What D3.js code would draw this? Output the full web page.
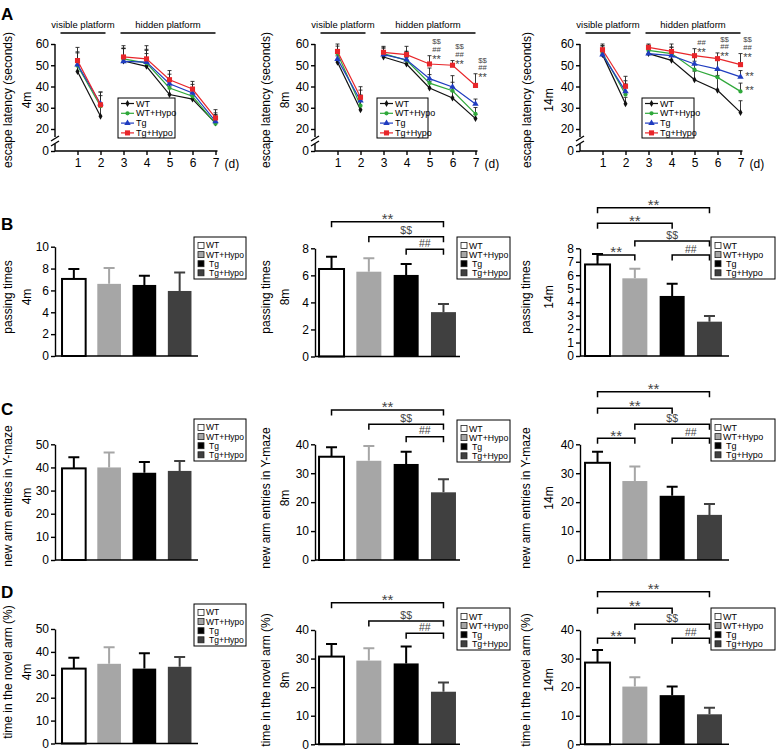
<!DOCTYPE html>
<html>
<head>
<meta charset="utf-8">
<script src="https://cdn.jsdelivr.net/npm/d3@7"></script>
<style>
body { margin: 0; background: #fff; }
svg { font-family: "Liberation Sans", Arial, sans-serif; }
</style>
</head>
<body>
<svg id="fig" width="777" height="755"></svg>
<script>
var days = [1, 2, 3, 4, 5, 6, 7];
var groups = ["WT", "WT+Hypo", "Tg", "Tg+Hypo"];

// escape latency (s), one row per group, day 1..7
var lat4m = [
  [47.1, 26.0, 52.0, 49.5, 36.2, 34.1, 22.8],
  [49.8, 30.7, 53.0, 51.0, 39.3, 35.4, 22.5],
  [50.3, 31.9, 51.8, 51.5, 41.3, 37.0, 23.6],
  [52.2, 31.4, 53.9, 53.0, 43.2, 38.8, 25.2]
];
var lat4mSe = [
  [6, 5, 6, 6, 4, 4, 4],
  [6, 5, 5, 6, 4.5, 4, 4],
  [6, 5.5, 6, 6, 4.5, 4, 4],
  [6.2, 6, 5.3, 6.2, 4.3, 3.6, 3.9]
];
var lat8m = [
  [51.4, 29.1, 53.9, 50.6, 39.3, 34.6, 24.9],
  [55.5, 31.0, 55.5, 52.3, 41.6, 38.0, 27.1],
  [52.9, 33.3, 55.0, 52.6, 43.7, 39.8, 31.8],
  [56.5, 34.9, 56.1, 55.0, 50.6, 50.0, 40.5]
];
var lat8mSe = [
  [3, 4, 3, 3, 3, 3, 2],
  [3.5, 5, 3, 4, 4, 4, 3],
  [4, 5, 3, 4, 5, 5.3, 2.3],
  [3.5, 5, 2.8, 3.9, 3.9, 2.2, 5.5]
];
var lat14m = [
  [55.0, 31.9, 55.5, 52.3, 43.2, 38.2, 27.8],
  [55.8, 36.2, 57.0, 55.5, 47.9, 44.3, 37.7],
  [55.0, 37.7, 55.5, 54.5, 50.6, 48.2, 44.5],
  [57.3, 40.1, 58.4, 56.5, 54.5, 53.1, 50.3]
];
var lat14mSe = [
  [3, 3, 3, 3, 4, 7, 5.5],
  [3.5, 5, 2.5, 3, 4, 4, 3.9],
  [4, 5, 3, 4, 4, 4.5, 3],
  [2.7, 4.7, 1.6, 3.5, 3.3, 2.7, 5.2]
];
// significance stacks above Tg+Hypo: [day, symbols bottom->top]
var latSig4m = [];
var latSig8m = [[5, ["**", "##", "$$"]], [6, ["**", "##", "$$"]], [7, ["**", "##", "$$"]]];
var latSig14m = [[5, ["**", "##"]], [6, ["**", "##", "$$"]], [7, ["**", "##", "$$"]]];
// marks beside a group's point: [day, group index, symbol]
var latSide14m = [[7, 2, "**"], [7, 1, "**"]];

// bar values (mean, SEM) in group order
var pass4m = [7.05, 6.6, 6.5, 5.95], pass4mErr = [0.9, 1.45, 0.85, 1.7];
var pass8m = [6.47, 6.27, 6.03, 3.28], pass8mErr = [0.9, 1.0, 0.8, 0.6];
var pass14m = [6.8, 5.77, 4.46, 2.55], pass14mErr = [0.77, 0.72, 0.91, 0.42];
var arm4m = [39.6, 40.0, 37.7, 38.5], arm4mErr = [4.8, 6.5, 4.6, 4.3];
var arm8m = [35.7, 34.3, 33.2, 23.4], arm8mErr = [3.3, 5.1, 4.2, 4.5];
var arm14m = [33.6, 27.3, 22.2, 15.6], arm14mErr = [3.8, 5.0, 3.1, 3.8];
var nov4m = [32.7, 34.8, 32.7, 33.5], nov4mErr = [4.7, 7.2, 6.7, 4.3];
var nov8m = [30.7, 29.3, 28.3, 18.4], nov8mErr = [4.4, 4.3, 5.9, 3.2];
var nov14m = [28.6, 20.2, 17.2, 10.5], nov14mErr = [4.4, 3.3, 3.0, 2.3];

// comparisons: [group a, group b, label]
var sig4m = [];
var sig8m = [[0, 3, "**"], [1, 3, "$$"], [2, 3, "##"]];
var sig14m = [[0, 3, "**"], [0, 2, "**"], [1, 3, "$$"], [0, 1, "**"], [2, 3, "##"]];

var ages = ["4m", "8m", "14m"];

var lineColors = ["#111", "#2fa83a", "#1f3cc0", "#e8262a"];
var barColors = ["#fff", "#a6a6a6", "#000", "#404040"];
var errColors = ["#000", "#a6a6a6", "#000", "#404040"];
var symbols = [d3.symbolDiamond, d3.symbolCircle, d3.symbolTriangle, d3.symbolSquare];
var symSize = [14, 14, 18, 26];

var svg = d3.select("#fig");
var colAx = [55, 315, 580];

function styleAxis(g) {
  g.attr("font-size", 12).attr("font-family", "'Liberation Sans', Arial, sans-serif");
  g.selectAll("line, path").attr("stroke", "#000").attr("stroke-width", 1.4);
  g.selectAll("text").attr("fill", "#000");
}

function yLabel(cx, cy, txt) {
  svg.append("text")
    .attr("transform", "translate(" + cx + "," + cy + ") rotate(-90)")
    .attr("text-anchor", "middle").attr("dy", "0.35em")
    .style("font-size", "12px").text(txt);
}

function sigText(g, x, yc, label, big) {
  var star = label.charAt(0) === "*";
  var fs = star ? big : big * 0.7;
  g.append("text").attr("x", x).attr("y", yc)
    .attr("dy", star ? "0.55em" : "0.36em")
    .attr("text-anchor", "middle").attr("fill", "#444")
    .style("font-size", fs + "px").text(label);
}

function panelLetter(t, y) {
  svg.append("text").attr("x", 1).attr("y", y)
    .style("font-size", "17px").style("font-weight", "bold").text(t);
}

// ---------- row A: line charts ----------
function linePanel(col, means, ses, stacks, sides, legendBox) {
  var ax = colAx[col];
  var x = d3.scaleLinear().domain([1, 7]).range([ax + 22.5, ax + 160.5]);
  var y = d3.scaleLinear().domain([0, 20, 60]).range([151, 129, 44]);
  var g = svg.append("g");

  // platform headers
  var hdr = [["visible platform", x(1) - 17, x(2) + 5], ["hidden platform", x(3) - 3, x(7)]];
  hdr.forEach(function (h) {
    g.append("line").attr("x1", h[1]).attr("x2", h[2]).attr("y1", 33).attr("y2", 33)
      .attr("stroke", "#000").attr("stroke-width", 1.3);
    g.append("text").attr("x", (h[1] + h[2]) / 2).attr("y", 28)
      .attr("text-anchor", "middle").style("font-size", "9.5px").text(h[0]);
  });

  var gy = g.append("g").attr("transform", "translate(" + ax + ",0)")
    .call(d3.axisLeft(y).tickValues([0, 20, 30, 40, 50, 60]).tickSize(4).tickPadding(2));
  gy.select(".domain").remove();
  styleAxis(gy);
  gy.append("line").attr("y1", y(60)).attr("y2", y(20) + 8);
  gy.append("line").attr("y1", y(0) - 7).attr("y2", y(0));
  [y(20) + 10, y(20) + 15].forEach(function (b) {
    gy.append("line").attr("x1", -4).attr("x2", 4).attr("y1", b + 2).attr("y2", b - 3);
  });
  gy.selectAll("line").attr("stroke", "#000").attr("stroke-width", 1.4);

  var gx = g.append("g").attr("transform", "translate(0,151)")
    .call(d3.axisBottom(x).tickValues(days).tickFormat(d3.format("d")).tickSize(4).tickPadding(3));
  gx.select(".domain").attr("d", "M" + ax + ",0H" + (x(7) + 2));
  styleAxis(gx);
  g.append("text").attr("x", x(7) + 9).attr("y", 168).style("font-size", "12px").text("(d)");

  // error bars
  means.forEach(function (m, s) {
    days.forEach(function (d, i) {
      var top = y(m[i] + ses[s][i]);
      g.append("line").attr("x1", x(d)).attr("x2", x(d)).attr("y1", y(m[i])).attr("y2", top)
        .attr("stroke", "#222").attr("stroke-width", 0.9);
      g.append("line").attr("x1", x(d) - 2).attr("x2", x(d) + 2).attr("y1", top).attr("y2", top)
        .attr("stroke", "#222").attr("stroke-width", 0.9);
    });
  });

  var line = d3.line().x(function (d, i) { return x(days[i]); }).y(function (d) { return y(d); });
  means.forEach(function (m, s) {
    // visible and hidden phases drawn as separate segments
    g.append("path").attr("d", line.defined(function (d, i) { return i < 2; })(m))
      .attr("fill", "none").attr("stroke", lineColors[s]).attr("stroke-width", 1.2);
    g.append("path").attr("d", line.defined(function (d, i) { return i >= 2; })(m))
      .attr("fill", "none").attr("stroke", lineColors[s]).attr("stroke-width", 1.2);
    g.selectAll(null).data(m).enter().append("path")
      .attr("transform", function (d, i) { return "translate(" + x(days[i]) + "," + y(d) + ")"; })
      .attr("d", d3.symbol().type(symbols[s]).size(symSize[s]))
      .attr("fill", lineColors[s]);
  });

  stacks.forEach(function (st) {
    var i = st[0] - 1;
    var base = y(means[3][i] + ses[3][i]) + 1;
    st[1].forEach(function (lab, k) {
      sigText(g, x(st[0]) + 7, base - k * 7.5, lab, 11);
    });
  });
  sides.forEach(function (sd) {
    sigText(g, x(sd[0]) + 9, y(means[sd[1]][sd[0] - 1]) - 3, sd[2], 11);
  });

  // legend
  var lb = legendBox;
  g.append("rect").attr("x", lb[0]).attr("y", lb[1]).attr("width", lb[2]).attr("height", lb[3])
    .attr("fill", "#fff").attr("stroke", "#000").attr("stroke-width", 1);
  groups.forEach(function (name, s) {
    var yy = lb[1] + 5.5 + s * 9.8;
    g.append("line").attr("x1", lb[0] + 3).attr("x2", lb[0] + 16).attr("y1", yy).attr("y2", yy)
      .attr("stroke", lineColors[s]).attr("stroke-width", 1.2);
    g.append("path").attr("transform", "translate(" + (lb[0] + 9.5) + "," + yy + ")")
      .attr("d", d3.symbol().type(symbols[s]).size(symSize[s])).attr("fill", lineColors[s]);
    g.append("text").attr("x", lb[0] + 18).attr("y", yy).attr("dy", "0.35em")
      .style("font-size", "9px").text(name);
  });

  yLabel([8, 266, 527][col], 100, "escape latency (seconds)");
  yLabel([27, 285, 549][col], 100, ages[col]);
}

linePanel(0, lat4m, lat4mSe, latSig4m, [], [118, 98, 57, 40]);
linePanel(1, lat8m, lat8mSe, latSig8m, [], [377, 98, 51, 40]);
linePanel(2, lat14m, lat14mSe, latSig14m, latSide14m, [642, 98, 52, 40]);

// ---------- rows B-D: bar charts ----------
var bandRange = [[3.5, 140], [0.3, 144.7], [1.3, 145.7]];
var axisEnd = [143, 145, 149];
var legendW = [52, 53, 64];
var legendFs = [8.5, 8.8, 9];

function barPanel(col, y0, yTop, ymax, step, vals, errs, sig, levels, legendY, title, cy) {
  var ax = colAx[col];
  var x = d3.scaleBand().domain(groups)
    .range([ax + bandRange[col][0], ax + bandRange[col][1]])
    .paddingInner(0.33).paddingOuter(0.1);
  var y = d3.scaleLinear().domain([0, ymax]).range([y0, yTop]);
  var g = svg.append("g");

  g.selectAll(null).data(vals).enter().append("rect")
    .attr("x", function (d, i) { return x(groups[i]); })
    .attr("y", function (d) { return y(d); })
    .attr("width", x.bandwidth())
    .attr("height", function (d) { return y0 - y(d); })
    .attr("fill", function (d, i) { return barColors[i]; })
    .attr("stroke", function (d, i) { return i === 0 ? "#000" : "none"; })
    .attr("stroke-width", 2);

  vals.forEach(function (v, i) {
    var cx = x(groups[i]) + x.bandwidth() / 2;
    var top = y(v + errs[i]);
    g.append("path").attr("d", "M" + cx + "," + y(v) + "V" + top + "M" + (cx - 5.5) + "," + top + "H" + (cx + 5.5))
      .attr("stroke", errColors[i]).attr("stroke-width", 2).attr("fill", "none");
  });

  var gy = g.append("g").attr("transform", "translate(" + ax + ",0)")
    .call(d3.axisLeft(y).tickValues(d3.range(0, ymax + step / 2, step)).tickSize(4).tickSizeOuter(0).tickPadding(2));
  styleAxis(gy);
  g.append("line").attr("x1", ax).attr("x2", ax + axisEnd[col]).attr("y1", y0).attr("y2", y0)
    .attr("stroke", "#000").attr("stroke-width", 1.4);

  sig.forEach(function (s, k) {
    var xa = x(groups[s[0]]) + x.bandwidth() / 2;
    var xb = x(groups[s[1]]) + x.bandwidth() / 2;
    var yl = levels[k];
    g.append("path").attr("d", "M" + xa + "," + (yl + 5.5) + "V" + yl + "H" + xb + "V" + (yl + 5.5))
      .attr("fill", "none").attr("stroke", "#000").attr("stroke-width", 1.5);
    sigText(g, (xa + xb) / 2, yl - 6, s[2], 15);
  });

  var lx = [194, 457, 711][col];
  var lw = legendW[col];
  g.append("rect").attr("x", lx).attr("y", legendY).attr("width", lw).attr("height", 42)
    .attr("fill", "#fff").attr("stroke", "#000").attr("stroke-width", 1);
  groups.forEach(function (name, i) {
    var yy = legendY + 8.5 + i * 9.1;
    g.append("rect").attr("x", lx + 4).attr("y", yy - 3).attr("width", 6).attr("height", 6)
      .attr("fill", barColors[i]).attr("stroke", "#222").attr("stroke-width", 0.8);
    g.append("text").attr("x", lx + 12 + (i >= 2 ? 3 : 0)).attr("y", yy).attr("dy", "0.35em")
      .style("font-size", legendFs[col] + "px").text(name);
  });

  yLabel([8, 266, 526][col], cy, title);
  yLabel([27, 285, 549][col], cy, ages[col]);
}

panelLetter("A", 20);
panelLetter("B", 230);
panelLetter("C", 415);
panelLetter("D", 598);

barPanel(0, 356, 246.7, 10, 2, pass4m, pass4mErr, sig4m, [], 237, "passing times", 297);
barPanel(1, 356.5, 248.3, 8, 2, pass8m, pass8mErr, sig8m, [221.7, 236.7, 249.3], 237, "passing times", 297);
barPanel(2, 356, 248.3, 8, 1, pass14m, pass14mErr, sig14m, [207.7, 223.3, 241, 255, 255], 237, "passing times", 297);

barPanel(0, 560, 444.3, 50, 10, arm4m, arm4mErr, sig4m, [], 419, "new arm entries in Y-maze", 496);
barPanel(1, 560, 444.3, 40, 10, arm8m, arm8mErr, sig8m, [410, 424.3, 436.7], 420, "new arm entries in Y-maze", 498);
barPanel(2, 560, 444.3, 40, 10, arm14m, arm14mErr, sig14m, [391.7, 408.3, 424.3, 438.3, 438.3], 419, "new arm entries in Y-maze", 498);

barPanel(0, 743.5, 629, 50, 10, nov4m, nov4mErr, sig4m, [], 604, "time in the novel arm (%)", 672);
barPanel(1, 744.3, 630, 40, 10, nov8m, nov8mErr, sig8m, [602.7, 621, 633.3], 608, "time in the novel arm (%)", 680);
barPanel(2, 744.3, 630, 40, 10, nov14m, nov14mErr, sig14m, [591.7, 608.3, 624.3, 638.3, 638.3], 608, "time in the novel arm (%)", 680);
</script>
</body>
</html>
